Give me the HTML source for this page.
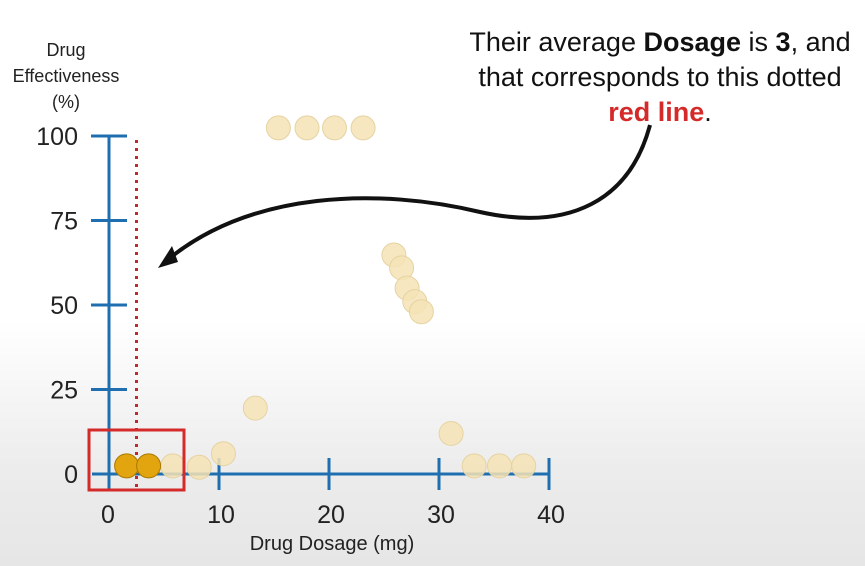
<!DOCTYPE html>
<html><head><meta charset="utf-8"><style>
html,body{margin:0;padding:0;}
body{width:865px;height:566px;overflow:hidden;background:linear-gradient(#fff 0,#fff 320px,#ececec 470px,#e6e6e6 566px);font-family:"Liberation Sans",sans-serif;}
</style></head><body>
<svg id="chart" width="865" height="566" xmlns="http://www.w3.org/2000/svg" style="position:absolute;left:0;top:0">
<g id="g"></g>
</svg>
<script>
const xTicks=[0,10,20,30,40];
const yTicks=[0,25,50,75,100];
const fadedX=[5.8,8.2,10.4,13.3,15.4,18,20.5,23.1,25.9,26.6,27.1,27.8,28.4,31.1,33.2,35.5,37.7];
const fadedY=[2.4,2,6,19.5,102.4,102.4,102.4,102.4,64.8,61,55,51,48,12,2.4,2.4,2.4];
const hiX=[1.6,3.6];
const hiY=[2.4,2.4];
const meanDose=[2.5];
const X=v=>109+v*11, Y=v=>474-v*3.38;
const NS="http://www.w3.org/2000/svg", g=document.getElementById('g');
function mk(t,a,txt){const e=document.createElementNS(NS,t);for(const k in a)e.setAttribute(k,a[k]);if(txt!=null)e.textContent=txt;g.appendChild(e);return e;}
let e;
e=mk('line',{x1:X(0),y1:Y(100),x2:X(0),y2:490,stroke:'#1f6fb0','stroke-width':3});


e=mk('line',{x1:92,y1:Y(0),x2:X(40),y2:Y(0),stroke:'#1f6fb0','stroke-width':3});


xTicks.forEach(t=>{
 if(t>0){e=mk('line',{x1:X(t),y1:Y(0)-16,x2:X(t),y2:Y(0)+16,stroke:'#1f6fb0','stroke-width':3});
 
 }
 e=mk('text',{x:X(t)+(t==0?-1:2),y:523,'font-size':25,'text-anchor':'middle',fill:'#222'},t);
 
 
});
yTicks.forEach(t=>{
 if(t>0){e=mk('line',{x1:X(0)-18,y1:Y(t),x2:X(0)+18,y2:Y(t),stroke:'#1f6fb0','stroke-width':3});
 
 }
 e=mk('text',{x:78,y:Y(t)+9,'font-size':25,'text-anchor':'end',fill:'#222'},t);
 
 
});
fadedX.forEach((v,i)=>{e=mk('circle',{cx:X(v),cy:Y(fadedY[i]),r:12,fill:'#f5e3b5','fill-opacity':0.85,stroke:'#e6d3a3','stroke-width':1});
 
 });
meanDose.forEach(v=>{e=mk('line',{x1:X(v),y1:140,x2:X(v),y2:490,stroke:'#c0282d','stroke-width':3,'stroke-dasharray':'3,5'});
 
 });
hiX.forEach((v,i)=>{e=mk('circle',{cx:X(v),cy:Y(hiY[i]),r:12,fill:'#e3a50f',stroke:'#a87a00','stroke-width':1});
 
 });
e=mk('rect',{x:89,y:430,width:95,height:60,fill:'none',stroke:'#d42a2a','stroke-width':3});


e=mk('path',{d:'M650 125 C 630 200, 570 232, 480 212 C 380 188, 250 190, 165 262',fill:'none',stroke:'#111','stroke-width':4});


e=mk('path',{d:'M158 268 L172 246 L178 262 Z',fill:'#111'});


[['Drug',66,56],['Effectiveness',66,82],['(%)',66,108]].forEach(a=>{e=mk('text',{x:a[1],y:a[2],'font-size':18,'text-anchor':'middle',fill:'#222'},a[0]);
 
 });
e=mk('text',{x:332,y:550,'font-size':20,'text-anchor':'middle',fill:'#222'},'Drug Dosage (mg)');


</script>
<div style="position:absolute;left:440px;top:25px;width:440px;text-align:center;font-size:27px;line-height:35px;color:#111;">
Their average <b>Dosage</b> is <b>3</b>, and<br>that corresponds to this dotted<br><b style="color:#d42a2a">red line</b>.
</div>
</body></html>
